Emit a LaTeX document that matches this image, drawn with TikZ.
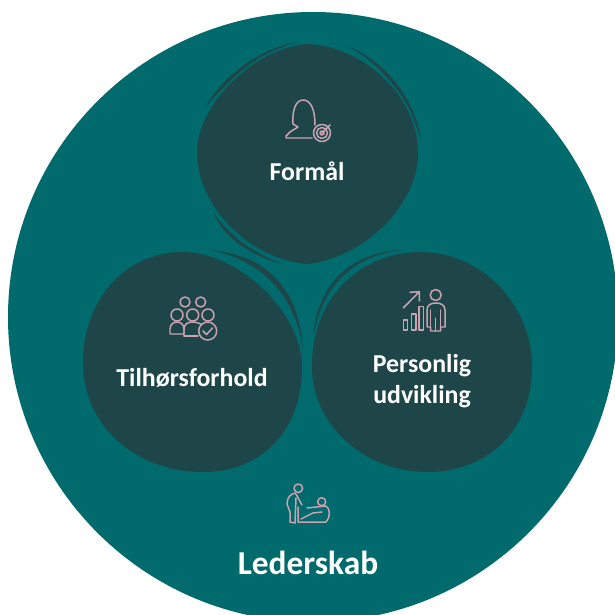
\documentclass[tikz,border=0pt]{standalone}
\usepackage{fontspec}
\setmainfont{Carlito}
\definecolor{tealbg}{HTML}{006A6C}
\definecolor{darkblob}{HTML}{1E4648}
\definecolor{iconpink}{HTML}{C9A3B2}

\begin{document}
\begin{tikzpicture}[x=0.02cm,y=-0.02cm]
    \tikzstyle{blob}=[fill=darkblob, preaction={draw=tealbg, line width=2.2pt}]
    \tikzstyle{icon}=[draw=iconpink, line width=0.85pt, line join=round, line cap=round]
    \tikzstyle{lbl}=[text=white, font=\bfseries\fontsize{14.7}{18}\selectfont, align=center, inner sep=0pt]

    \clip (0,0) rectangle (615,615);
    \fill[white] (0,0) rectangle (615,615);
    \fill[tealbg] (313,317) circle[radius=305];

    % crescents behind the blobs
    \fill[darkblob] (205,108) .. controls (220,80) and (255,50) .. (296,42)
        .. controls (258,54) and (224,84) .. (205,108);
    \fill[darkblob] (347,46) .. controls (380,58) and (415,95) .. (421,140)
        .. controls (408,98) and (382,64) .. (347,46);
    \fill[darkblob] (213,212) .. controls (222,235) and (250,257) .. (284,264)
        .. controls (252,254) and (226,232) .. (213,212);
    \fill[darkblob] (210,250) .. controls (270,255) and (300,293) .. (303,350)
        .. controls (296,298) and (265,261) .. (210,250);
    \fill[darkblob] (313,340) .. controls (316,285) and (350,252) .. (403,250)
        .. controls (352,255) and (320,288) .. (313,340);

    % blobs
    \path[blob] (307,44) .. controls (362,46) and (418,95) .. (418,153)
        .. controls (418,205) and (364,258) .. (307,264)
        .. controls (252,260) and (197,208) .. (197,152)
        .. controls (197,105) and (254,48) .. (307,44) -- cycle;
    \path[blob] (183,252) .. controls (238,252) and (302,312) .. (302,367)
        .. controls (302,430) and (262,472) .. (203,472)
        .. controls (135,472) and (83,425) .. (83,363)
        .. controls (83,300) and (125,252) .. (183,252) -- cycle;
    \path[blob] (420,252) .. controls (482,252) and (532,305) .. (532,367)
        .. controls (532,430) and (488,472) .. (427,472)
        .. controls (365,472) and (312,425) .. (312,367)
        .. controls (312,291) and (367,252) .. (420,252) -- cycle;

    % icon formaal
    \draw[icon] (293,124) .. controls (292,110) and (296,100) .. (303,100) .. controls (311,100) and (315,110) .. (315,125);
    \draw[icon] (293,124) -- (298,127) -- (290,132) -- (286,136) -- (286,138) -- (312,138);
    \draw[icon] (322,133) circle[radius=8.5] (322,133) circle[radius=5.5] (322,133) circle[radius=2];
    \draw[icon] (322,133) -- (330,125);

    % icon tilhoersforhold
    \draw[icon] (185,302) circle[radius=5] (200.7,302) circle[radius=5]
        (177,315) circle[radius=6] (192.7,315) circle[radius=6] (208,315) circle[radius=6];
    \draw[icon] (170,334) -- (170,329) .. controls (170,324) and (174,322) .. (177,322)
        .. controls (180,322) and (184,324) .. (184,329) -- (184,334) -- cycle;
    \draw[icon] (184,336) -- (184,329) .. controls (184,324) and (188,322) .. (192.7,322)
        .. controls (197,322) and (201,324) .. (202,325);
    \draw[icon] (184,336) -- (198,336);
    \draw[fill=darkblob, icon] (207.7,331) circle[radius=9];
    \draw[icon] (203,331) -- (206.5,334.5) -- (212.5,328);

    % icon personlig udvikling
    \draw[icon] (403.3,308) -- (419.3,291.7) (410,292.3) -- (419.3,291.7) -- (419.3,301);
    \draw[icon] (403.3,320) rectangle (407.3,330) (411.3,314) rectangle (416,330) (419,306.7) rectangle (423.3,330);
    \draw[icon] (435.7,295) circle[radius=5.5];
    \draw[icon] (427,327) -- (427,310) .. controls (427,305) and (431,303) .. (435.7,303)
        .. controls (441,303) and (445,305) .. (445,310) -- (445,327) -- (440.5,327) -- (440.5,331) -- (430.7,331) -- (430.7,327) -- cycle;
    \draw[icon] (430.7,310) -- (430.7,327) (440.5,310) -- (440.5,327) (435.7,318) -- (435.7,331);

    % icon lederskab
    \draw[icon] (298.3,488.3) circle[radius=4.3] (321.7,501.7) circle[radius=4];
    \draw[icon] (290,522) -- (290,512) -- (287,504) .. controls (287,497) and (291,494) .. (295,493)
        .. controls (297,495) and (299,500) .. (302,505);
    \draw[icon] (296,498) -- (295,523) -- (290,522);
    \draw[icon] (298,507) -- (298,522) -- (326,522) .. controls (331,517) and (330,508) .. (326,506) -- (316,507) -- (307,508);
    \draw[icon] (301,519) -- (313,513) -- (322,512);

    \node[lbl] (formaal) at (307,171) {Formål};
    \node[lbl] (tilhoer) at (192,378) {Tilhørsforhold};
    \node[lbl] (personlig) at (422,381) {Personlig\\udvikling};
    \node[lbl, font=\bfseries\fontsize{19}{22}\selectfont] (leder) at (308,563) {Lederskab};
\end{tikzpicture}
\end{document}
